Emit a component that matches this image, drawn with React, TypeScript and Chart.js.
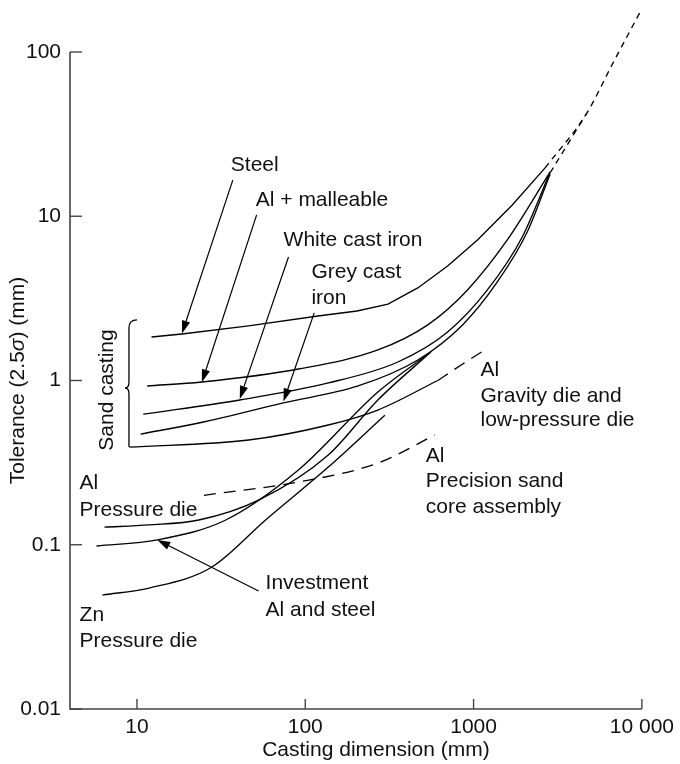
import { useEffect, useRef } from "react";
import { Chart, registerables } from "chart.js";

Chart.register(...registerables);

// ---- tick values & labels ----
const xTicks = [10, 100, 1000, 10000];
const xTickLabels = ["10", "100", "1000", "10 000"];
const yTicks = [0.01, 0.1, 1, 10, 100];
const yTickLabels = ["0.01", "0.1", "1", "10", "100"];

// ---- sand casting curves (dimension mm, tolerance mm) ----
const steelDim = [12.2, 18.5, 46, 119, 203, 310, 466, 701, 1055, 1698, 2660];
const steelTol = [1.84, 1.92, 2.15, 2.47, 2.65, 2.92, 3.66, 4.98, 7.17, 11.7, 19.7];

const alMallDim = [11.5, 24.3, 91, 270, 534, 920, 1586, 2851];
const alMallTol = [0.926, 0.979, 1.175, 1.534, 2.18, 3.56, 7.17, 18.6];

const whiteDim = [10.9, 40.8, 137, 355, 701, 1208, 1946, 2851];
const whiteTol = [0.624, 0.761, 0.966, 1.296, 1.974, 3.56, 7.48, 18.6];

const greyDim = [10.5, 23.3, 74.2, 206, 466, 860, 1384, 2083, 2851];
const greyTol = [0.472, 0.551, 0.73, 0.926, 1.333, 2.18, 3.98, 8.02, 18.1];

// dashed extrapolation above the bundle
const extADim = [2660, 4710, 6640, 9700];
const extATol = [19.7, 42.5, 83.4, 173];
const extBDim = [2851, 4710];
const extBTol = [18.4, 42.5];

// ---- Al gravity die and low-pressure die ----
const gravDim = [9.0, 46.1, 137, 270, 613];
const gravTol = [0.393, 0.434, 0.536, 0.661, 1.0];
const gravDashDim = [613, 861, 1208];
const gravDashTol = [1.0, 1.26, 1.57];

// ---- Al precision sand core assembly (dashed) ----
const precDim = [25, 91, 270, 587];
const precTol = [0.2, 0.241, 0.314, 0.465];

// ---- Al pressure die ----
const alPdDim = [6.41, 11.8, 23.3, 52.8, 137, 270, 557];
const alPdTol = [0.128, 0.132, 0.1415, 0.187, 0.352, 0.761, 1.49];

// ---- Investment Al and steel ----
const invDim = [5.75, 13.2, 33.7, 91, 270, 557];
const invTol = [0.0983, 0.107, 0.1415, 0.285, 0.851, 1.49];

// ---- Zn pressure die ----
const znDim = [6.24, 11.8, 27.9, 58.1, 137, 297];
const znTol = [0.0494, 0.0545, 0.0732, 0.1415, 0.297, 0.615];

// ---- text labels: [text, dimension(left), tolerance(middle)] ----
const labelTexts = [
  "Steel", "Al + malleable", "White cast iron", "Grey cast", "iron",
  "Al", "Gravity die and", "low-pressure die",
  "Al", "Precision sand", "core assembly",
  "Al", "Pressure die",
  "Investment", "Al and steel",
  "Zn", "Pressure die",
];
const labelDim = [
  36.1, 50.8, 74.3, 108.8, 108.8,
  1099, 1099, 1099,
  519.6, 519.6, 519.6,
  4.56, 4.56,
  58.1, 58.1,
  4.56, 4.56,
];
const labelTol = [
  20.5, 12.6, 7.17, 4.58, 3.18,
  1.16, 0.805, 0.575,
  0.347, 0.244, 0.17,
  0.238, 0.163,
  0.0585, 0.0401,
  0.0374, 0.026,
];

// ---- arrows: tail -> tip ----
const arrowTailDim = [37.1, 51.4, 79.5, 113, 52.8];
const arrowTailTol = [16.6, 10.2, 5.65, 2.58, 0.0523];
const arrowTipDim = [18.5, 24.3, 40.8, 74.2, 13.2];
const arrowTipTol = [1.93, 0.975, 0.772, 0.745, 0.107];

// ---- brace for "Sand casting" ----
const braceDim = 10.0;
const braceTopTol = 2.34;
const braceBottomTol = 0.393;
const braceMidTol = 0.9;
const sandTextDim = 6.68;
const sandTextTol = 0.875;

const FONT_FAMILY = "'Liberation Sans', Arial, Helvetica, sans-serif";
const FONT = `21px ${FONT_FAMILY}`;
const INK = "#111";
const AXIS = "#444";

const pts = (xs: number[], ys: number[]) => xs.map((x, i) => ({ x, y: ys[i] }));

function lineDs(xs: number[], ys: number[], dash: number[] = [], smooth = true) {
  return {
    data: pts(xs, ys),
    borderColor: "#000",
    borderWidth: 1.35,
    borderDash: dash,
    pointRadius: 0,
    cubicInterpolationMode: smooth ? ("monotone" as const) : ("default" as const),
    tension: 0,
    fill: false,
    clip: false as const,
  };
}

const annotPlugin = {
  id: "annot",
  afterDraw(chart: any) {
    const ctx: CanvasRenderingContext2D = chart.ctx;
    const xs = chart.scales.x;
    const ys = chart.scales.y;
    const px = (v: number) => xs.getPixelForValue(v);
    const py = (v: number) => ys.getPixelForValue(v);
    const ca = chart.chartArea;
    ctx.save();

    // axes
    ctx.strokeStyle = AXIS;
    ctx.lineWidth = 1.6;
    ctx.beginPath();
    ctx.moveTo(ca.left, ca.top);
    ctx.lineTo(ca.left, ca.bottom);
    ctx.lineTo(ca.right, ca.bottom);
    ctx.stroke();
    ctx.lineWidth = 1.4;
    xTicks.forEach((v) => {
      const x = px(v);
      ctx.beginPath();
      ctx.moveTo(x, ca.bottom);
      ctx.lineTo(x, ca.bottom - 10);
      ctx.stroke();
    });
    yTicks.forEach((v) => {
      const y = py(v);
      ctx.beginPath();
      ctx.moveTo(ca.left, y);
      ctx.lineTo(ca.left + 12, y);
      ctx.stroke();
    });

    // labels
    ctx.fillStyle = INK;
    ctx.font = FONT;
    ctx.textAlign = "left";
    ctx.textBaseline = "middle";
    labelTexts.forEach((t, i) => {
      ctx.fillText(t, px(labelDim[i]), py(labelTol[i]));
    });

    // arrows
    ctx.strokeStyle = "#000";
    ctx.fillStyle = "#000";
    ctx.lineWidth = 1.2;
    arrowTipDim.forEach((_, i) => {
      const x0 = px(arrowTailDim[i]);
      const y0 = py(arrowTailTol[i]);
      const x1 = px(arrowTipDim[i]);
      const y1 = py(arrowTipTol[i]);
      const ang = Math.atan2(y1 - y0, x1 - x0);
      const L = 13;
      const W = 4.2;
      const bx = x1 - L * Math.cos(ang);
      const by = y1 - L * Math.sin(ang);
      ctx.beginPath();
      ctx.moveTo(x0, y0);
      ctx.lineTo(bx, by);
      ctx.stroke();
      ctx.beginPath();
      ctx.moveTo(x1, y1);
      ctx.lineTo(bx + W * Math.sin(ang), by - W * Math.cos(ang));
      ctx.lineTo(bx - W * Math.sin(ang), by + W * Math.cos(ang));
      ctx.closePath();
      ctx.fill();
    });

    // brace
    const bxp = px(braceDim);
    const tY = py(braceTopTol);
    const bY = py(braceBottomTol);
    const mY = py(braceMidTol);
    const sx = bxp - 8;
    ctx.lineWidth = 1.3;
    ctx.beginPath();
    ctx.moveTo(bxp, tY);
    ctx.quadraticCurveTo(sx, tY, sx, tY + 8);
    ctx.lineTo(sx, mY - 6);
    ctx.quadraticCurveTo(sx, mY, sx - 4, mY);
    ctx.quadraticCurveTo(sx, mY, sx, mY + 6);
    ctx.lineTo(sx, bY);
    ctx.stroke();

    // "Sand casting"
    ctx.save();
    ctx.translate(px(sandTextDim), py(sandTextTol));
    ctx.rotate(-Math.PI / 2);
    ctx.textAlign = "center";
    ctx.fillStyle = INK;
    ctx.fillText("Sand casting", 0, 0);
    ctx.restore();

    // y axis title with italic sigma
    ctx.save();
    ctx.translate(18, (ca.top + ca.bottom) / 2);
    ctx.rotate(-Math.PI / 2);
    const parts: [string, string][] = [
      ["Tolerance (2.5", FONT],
      ["σ", `italic ${FONT}`],
      [") (mm)", FONT],
    ];
    let total = 0;
    parts.forEach(([t, f]) => {
      ctx.font = f;
      total += ctx.measureText(t).width;
    });
    let cx = -total / 2;
    ctx.textAlign = "left";
    ctx.fillStyle = INK;
    parts.forEach(([t, f]) => {
      ctx.font = f;
      ctx.fillText(t, cx, 0);
      cx += ctx.measureText(t).width;
    });
    ctx.restore();

    // x axis title
    ctx.font = FONT;
    ctx.textAlign = "center";
    ctx.fillStyle = INK;
    ctx.fillText("Casting dimension (mm)", (ca.left + ca.right) / 2 + 20, 750);

    ctx.restore();
  },
};

export default function App() {
  const ref = useRef<HTMLCanvasElement | null>(null);
  useEffect(() => {
    document.body.style.margin = "0";
    const canvas = ref.current;
    if (!canvas) return;
    const chart = new Chart(canvas, {
      type: "line",
      data: {
        datasets: [
          lineDs(steelDim, steelTol, [], false),
          lineDs(alMallDim, alMallTol),
          lineDs(whiteDim, whiteTol),
          lineDs(greyDim, greyTol),
          lineDs(extADim, extATol, [6, 5]),
          lineDs(extBDim, extBTol, [6, 5]),
          lineDs(gravDim, gravTol),
          lineDs(gravDashDim, gravDashTol, [12, 8]),
          lineDs(precDim, precTol, [12, 8]),
          lineDs(alPdDim, alPdTol),
          lineDs(invDim, invTol),
          lineDs(znDim, znTol),
        ] as any,
      },
      options: {
        animation: false,
        responsive: false,
        maintainAspectRatio: false,
        layout: { padding: { top: 52, right: 36, left: 0, bottom: 0 } },
        plugins: { legend: { display: false }, tooltip: { enabled: false } },
        scales: {
          x: {
            type: "logarithmic",
            min: 4,
            max: 10000,
            grid: { display: false, drawTicks: false },
            border: { display: false },
            afterBuildTicks: (s: any) => {
              s.ticks = xTicks.map((v) => ({ value: v }));
            },
            afterFit: (s: any) => {
              s.height = 55;
            },
            ticks: {
              autoSkip: false,
              maxRotation: 0,
              padding: 6,
              color: INK,
              font: { family: FONT_FAMILY, size: 21 },
              callback: (v: any) => {
                const i = xTicks.indexOf(Number(v));
                return i >= 0 ? xTickLabels[i] : "";
              },
            },
          },
          y: {
            type: "logarithmic",
            min: 0.01,
            max: 100,
            grid: { display: false, drawTicks: false },
            border: { display: false },
            afterBuildTicks: (s: any) => {
              s.ticks = yTicks.map((v) => ({ value: v }));
            },
            afterFit: (s: any) => {
              s.width = 70;
            },
            ticks: {
              autoSkip: false,
              padding: 9,
              color: INK,
              font: { family: FONT_FAMILY, size: 21 },
              callback: (v: any) => {
                const i = yTicks.findIndex((t) => Math.abs(t - Number(v)) < t * 1e-6);
                return i >= 0 ? yTickLabels[i] : "";
              },
            },
          },
        },
      },
      plugins: [annotPlugin],
    });
    return () => chart.destroy();
  }, []);
  return (
    <div style={{ width: 680, height: 764, background: "#fff" }}>
      <canvas ref={ref} width={680} height={764} style={{ display: "block" }} />
    </div>
  );
}
